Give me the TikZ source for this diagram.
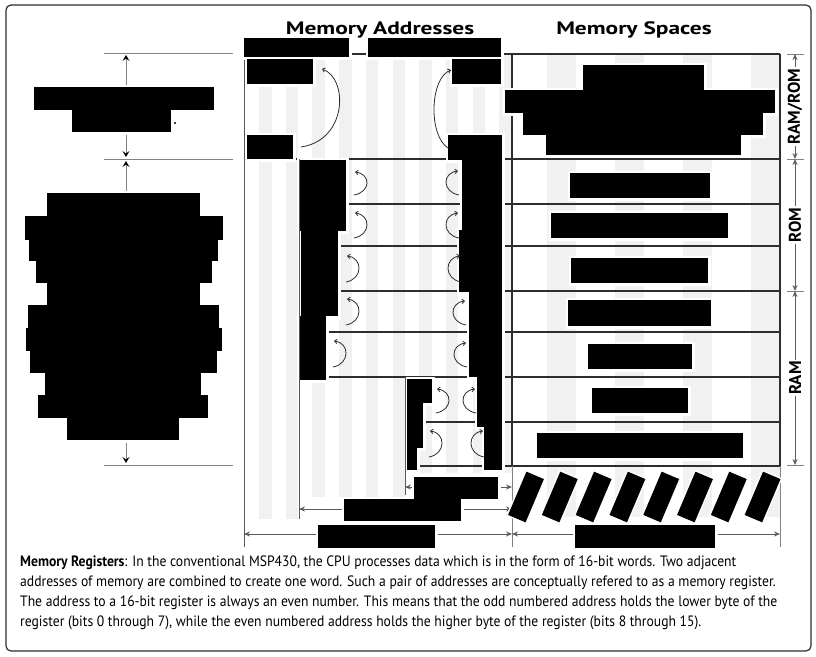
\documentclass[tikz,border=0pt]{standalone}
\usepackage{fontspec}
\setmainfont{PT Sans}
\newfontfamily\headfont[FakeStretch=1.3]{PT Sans}
\newfontfamily\capfont[FakeStretch=0.91]{PT Sans}
\usepackage{tikz}
\usetikzlibrary{arrows.meta}
\definecolor{stripeBg}{RGB}{241,241,241}
\definecolor{dimGray}{RGB}{130,130,130}
\definecolor{ruleDark}{RGB}{45,45,45}

\tikzset{
  rowline/.style={draw=ruleDark, line width=1.4pt},
  thinrule/.style={draw=ruleDark!80, line width=0.9pt},
  dimline/.style={draw=dimGray, line width=1pt},
  leftarrow/.style={draw=dimGray, line width=1pt, -{Stealth[length=6pt, width=7pt, inset=2.5pt, color=black]}},
  dimarrow/.style={draw=dimGray!70!black, line width=0.9pt,
    {Stealth[length=6pt, width=5pt]}-{Stealth[length=6pt, width=5pt]}},
  pairarc/.style={draw=ruleDark, line width=0.8pt, -{Straight Barb[length=2.5pt, width=4.5pt]}},
  headtitle/.style={font=\headfont\bfseries\fontsize{18}{20}\selectfont},
  sidelabel/.style={font=\bfseries\fontsize{17}{20}\selectfont, rotate=90, fill=white, inner sep=1.5pt},
  slantbox/.style={fill=black, rotate=67, minimum width=47pt, minimum height=19pt, inner sep=0pt,
    preaction={draw=white, line width=3pt}},
}

% hidden labels, x1/y1/x2/y2 in pixels
\def\hiddentext{34/87/214/110, 72/110/171/132,
  47/193/200/216, 25/216/223/240, 29/240/218/261, 36/261/212/283, 47/283/200/305,
  28/305/219/328, 26/328/222/351, 30/351/217/373, 45/373/201/395, 38/395/208/418,
  67/418/179/440,
  244/38/349/57, 368/38/501/57, 247/59/313/84, 247/135/293/159, 452/59/501/84,
  448/135/502/160, 462/160/502/230, 459/230/502/292, 469/292/502/377, 477/377/502/427,
  484/427/502/470,
  299/160/346/231, 301/231/338/316, 299/316/326/380,
  407/379/432/403, 407/403/423/448, 407/448/417/470,
  583/65/704/90, 505/90/775/113, 523/113/763/135, 546/135/741/155,
  570/173/710/198, 551/213/728/238, 571/258/708/283, 568/300/711/326,
  588/344/692/369, 592/388/688/413, 537/433/743/458,
  414/477/498/499, 344/499/461/521, 318/525/435/548, 575/525/715/548}

\begin{document}
\begin{tikzpicture}[x=1pt, y=-1pt]
  \useasboundingbox (0,0) rectangle (816,656);
  % outer frame
  \draw[ruleDark, line width=1.2pt, rounded corners=5pt] (6,5) rectangle (811,651);
  % column titles
  \node[headtitle] (addrTitle) at (380,30) {Memory Addresses};
  \node[headtitle] (spaceTitle) at (634,30) {Memory Spaces};

  % background stripes
  \foreach \sx in {259,285.7}
    \fill[stripeBg] (\sx,54) rectangle ++(12.5,465);
  \foreach \sx in {312.4,339.1,365.8,392.5}
    \fill[stripeBg] (\sx,54) rectangle ++(12.5,443);
  \foreach \sx in {419.2,445.9,472.6,499.3}
    \fill[stripeBg] (\sx,54) rectangle ++(12.5,419);
  \foreach \sx in {547,615,683,751}
    \fill[stripeBg] (\sx,54) rectangle ++(29,463);

  % table rules
  \draw[rowline] (244,54) -- (780,54);
  \draw[rowline] (244,159) -- (780,159);
  \foreach \ry in {204,246,291,332,377}
    \draw[rowline] (299,\ry) -- (780,\ry);
  \foreach \ry in {422,466}
    \draw[rowline] (405,\ry) -- (780,\ry);
  \draw[rowline] (512,54) -- (512,466);
  \draw[rowline] (780,54) -- (780,466);
  \draw[thinrule] (244,54) -- (244,547);
  \draw[dimline] (512,466) -- (512,547);
  \draw[dimline] (780,466) -- (780,547);

  % left side span markers
  \foreach \ly in {53,159,465}
    \draw[dimline] (104,\ly) -- (233,\ly);
  \draw[leftarrow] (126,87) -- (126,55);
  \draw[leftarrow] (126,132) -- (126,157);
  \draw[leftarrow] (126,191) -- (126,161);
  \draw[leftarrow] (126,441) -- (126,463);

  % bottom spans
  \coordinate (spanA) at (405,487);
  \coordinate (spanB) at (299,509);
  \coordinate (spanC) at (244,534);
  \coordinate (spanD) at (512,534);
  \draw[dimarrow] (spanA) -- (spanA -| spanD);
  \draw[dimarrow] (spanB) -- (spanB -| spanD);
  \draw[dimarrow] (spanC) -- (spanD);
  \draw[dimarrow] (spanD) -- ++(268,0);

  % hidden labels: halos first, then black
  \foreach \xa/\ya/\xb/\yb in \hiddentext
    \draw[white, line width=5pt] (\xa,\ya) rectangle (\xb,\yb);
  \foreach \xa/\ya/\xb/\yb in \hiddentext
    \fill[black] (\xa,\ya) rectangle (\xb,\yb);
  \fill[black] (175,123) circle (1.2);
  \foreach \i in {0,...,7}
    \node[slantbox] (slant\i) at ({526+33.8*\i},497) {};

  % address column edges
  \draw[thinrule] (299,159) -- (299,519);
  \draw[thinrule] (405,377) -- (405,495);

  % pairing arcs
  \draw[pairarc] (301,147) .. controls (348,140) and (348,78) .. (322,69);
  \draw[pairarc] (448,148) .. controls (428,135) and (430,78) .. (451,70);
  \foreach \ax/\at/\ab in {353/171/195, 353/212/238, 345/255/282, 345/298/325,
                           332/340/367, 435/388/413, 428/430/457}
    \draw[pairarc] (\ax+1,\ab) .. controls (\ax+18,\ab-3) and (\ax+18,\at+3) .. (\ax+2,\at+1);
  \foreach \ax/\at/\ab in {460/170/195, 460/212/238, 462/255/282, 467/300/325,
                           468/342/367, 477/388/413, 485/430/457}
    \draw[pairarc] (\ax-1,\ab) .. controls (\ax-18,\ab-3) and (\ax-18,\at+3) .. (\ax-2,\at+1);

  % memory space spans
  \foreach \ty in {54,159,291,465}
    \draw[dimline] (787,\ty) -- (804,\ty);
  \draw[dimarrow] (795,54) -- node[sidelabel] (ramrom) {RAM/ROM} (795,159);
  \draw[dimarrow] (795,159) -- node[sidelabel] (rom) {ROM} (795,291);
  \draw[dimarrow] (795,291) -- node[sidelabel] (ram) {RAM} (795,465);

  % caption
  \node[anchor=north west, align=left, inner sep=0pt,
        font=\capfont\fontsize{15}{20}\selectfont] (caption) at (20,556)
    {\textbf{Memory Registers}: In the conventional MSP430, the CPU processes data which is in the form of 16-bit words. Two adjacent\\
     addresses of memory are combined to create one word. Such a pair of addresses are conceptually refered to as a memory register.\\
     The address to a 16-bit register is always an even number. This means that the odd numbered address holds the lower byte of the\\
     register (bits 0 through 7), while the even numbered address holds the higher byte of the register (bits 8 through 15).};
\end{tikzpicture}
\end{document}
